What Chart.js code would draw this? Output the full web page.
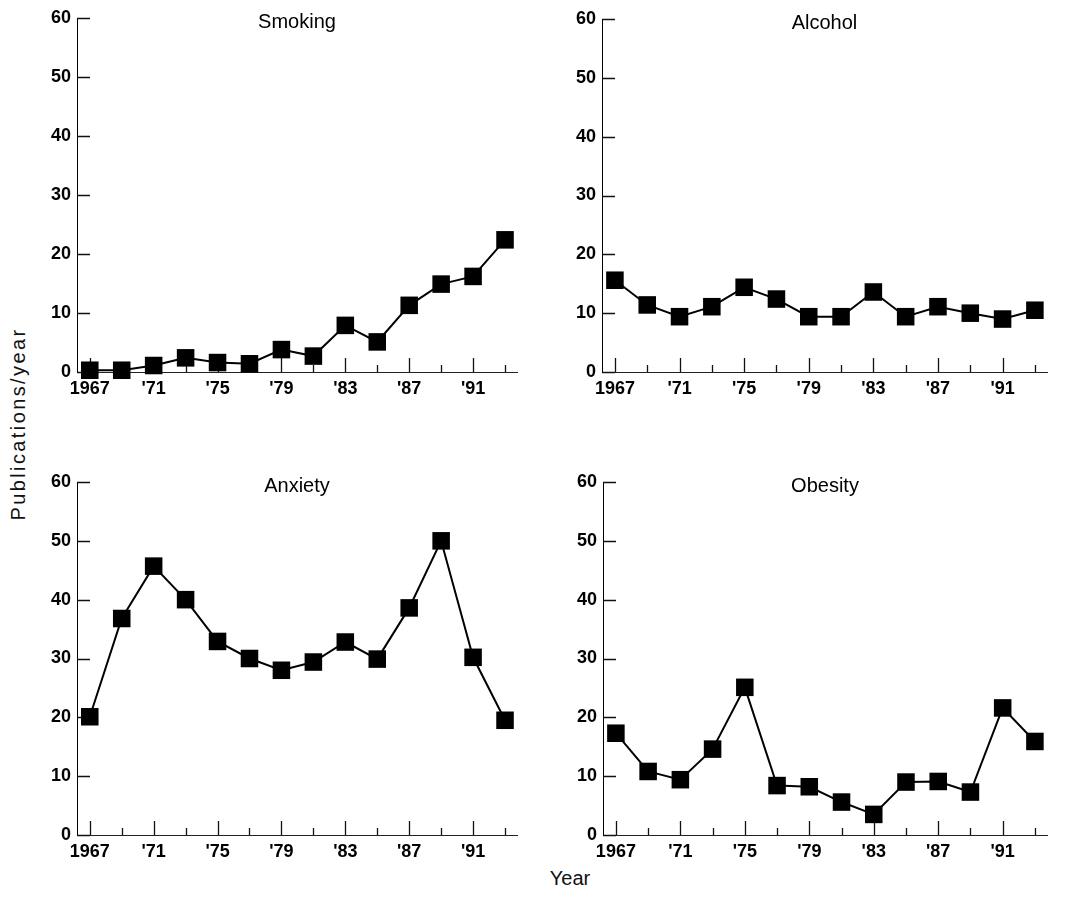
<!DOCTYPE html>
<html><head><meta charset="utf-8">
<script src="https://cdn.jsdelivr.net/npm/chart.js@4"></script>
<style>
html,body{margin:0;padding:0;background:#fff;width:1065px;height:901px;overflow:hidden;position:relative;font-family:"Liberation Sans";}
canvas{position:absolute;}
.yt{position:absolute;left:18px;top:424px;transform:translate(-50%,-50%) rotate(-90deg);font-size:20px;letter-spacing:2.4px;white-space:nowrap;color:#111;}
.xt{position:absolute;left:570px;top:878px;transform:translate(-50%,-50%);font-size:20px;color:#111;}
</style></head><body>
<div class="yt">Publications/year</div>
<div class="xt">Year</div>
<script>
const years = [1967,1969,1971,1973,1975,1977,1979,1981,1983,1985,1987,1989,1991,1993];
const smoking = [0.3,0.3,1.1,2.4,1.6,1.4,3.8,2.7,7.9,5.1,11.3,14.9,16.2,22.4];
const alcohol = [15.6,11.4,9.4,11.1,14.4,12.4,9.4,9.4,13.6,9.4,11.1,10.0,9.0,10.5];
const anxiety = [20.1,36.8,45.7,40.0,32.9,30.0,28.0,29.4,32.8,29.9,38.6,50.0,30.2,19.5];
const obesity = [17.3,10.8,9.4,14.6,25.1,8.4,8.2,5.6,3.5,9.0,9.1,7.3,21.6,15.9];
const xTickValues = [1967,1971,1975,1979,1983,1987,1991];
const xTickLabels = ['1967',"'71","'75","'79","'83","'87","'91"];
const minorTickValues = [1969,1973,1977,1981,1985,1989,1993];
const yTickValues = [0,10,20,30,40,50,60];
const panelTitles = ['Smoking','Alcohol','Anxiety','Obesity'];

const panels = [
  {title: panelTitles[0], values: smoking, area:{left:77, top:18, right:517, bottom:372}},
  {title: panelTitles[1], values: alcohol, area:{left:602, top:19, right:1047, bottom:372}},
  {title: panelTitles[2], values: anxiety, area:{left:77, top:482, right:517, bottom:835}},
  {title: panelTitles[3], values: obesity, area:{left:603, top:482, right:1047, bottom:835}}
];

const AXW = 77, PT = 50, PR = 15, XH = 32, PB = 15;
const FONT = {family: 'Liberation Sans', size: 18, weight: 'bold'};

const panelPlugin = {
  id: 'panelDeco',
  beforeDatasetsDraw(chart) {
    const {ctx, scales: {x, y}} = chart;
    const b = Math.round(y.getPixelForValue(0));
    const l = x.left;
    ctx.save();
    ctx.strokeStyle = '#111';
    ctx.lineWidth = 1.3;
    ctx.beginPath();
    xTickValues.forEach(v => {
      const px = Math.round(x.getPixelForValue(v)) + 0.5;
      ctx.moveTo(px, b); ctx.lineTo(px, b - 14);
    });
    minorTickValues.forEach(v => {
      const px = Math.round(x.getPixelForValue(v)) + 0.5;
      ctx.moveTo(px, b); ctx.lineTo(px, b - 7);
    });
    yTickValues.forEach(v => {
      const py = Math.round(y.getPixelForValue(v)) + 0.5;
      ctx.moveTo(l, py); ctx.lineTo(l + 13, py);
    });
    ctx.stroke();
    ctx.restore();
  },
  afterDraw(chart, args, opts) {
    const {ctx, chartArea} = chart;
    ctx.save();
    ctx.fillStyle = '#000';
    ctx.font = '20px "Liberation Sans"';
    ctx.textAlign = 'center';
    ctx.textBaseline = 'alphabetic';
    ctx.fillText(opts.title, (chartArea.left + chartArea.right) / 2, chartArea.top + 10);
    ctx.restore();
  }
};

panels.forEach(p => {
  const c = document.createElement('canvas');
  const w = p.area.right - p.area.left + AXW + PR;
  const h = p.area.bottom - p.area.top + PT + XH + PB;
  c.width = w; c.height = h;
  c.style.left = (p.area.left - AXW) + 'px';
  c.style.top = (p.area.top - PT) + 'px';
  c.style.width = w + 'px';
  c.style.height = h + 'px';
  document.body.appendChild(c);
  new Chart(c, {
    type: 'line',
    data: {
      datasets: [{
        data: years.map((yr, j) => ({x: yr, y: p.values[j]})),
        borderColor: '#000',
        borderWidth: 2,
        pointStyle: 'rect',
        pointRadius: 12.4,
        pointHoverRadius: 12.4,
        pointBackgroundColor: '#000',
        pointBorderColor: '#000',
        pointBorderWidth: 0,
        tension: 0,
        fill: false,
        clip: false
      }]
    },
    options: {
      responsive: false,
      animation: false,
      devicePixelRatio: 1,
      events: [],
      layout: {padding: {left: 0, top: PT, right: PR, bottom: PB}},
      plugins: {
        legend: {display: false},
        tooltip: {enabled: false},
        panelDeco: {title: p.title}
      },
      scales: {
        x: {
          type: 'linear',
          min: 1966.2,
          max: 1993.75,
          afterFit(s) { s.height = XH; },
          afterBuildTicks(s) { s.ticks = xTickValues.map(v => ({value: v})); },
          ticks: {autoSkip: false, maxRotation: 0, padding: 6, color: '#000', font: FONT,
            callback: (v, i) => xTickLabels[i]},
          grid: {display: false, drawTicks: false},
          border: {display: true, color: '#222', width: 1}
        },
        y: {
          min: 0,
          max: 60,
          afterFit(s) { s.width = AXW; },
          afterBuildTicks(s) { s.ticks = yTickValues.map(v => ({value: v})); },
          ticks: {padding: 6, color: '#000', font: FONT},
          grid: {display: false, drawTicks: false},
          border: {display: true, color: '#000', width: 1}
        }
      }
    },
    plugins: [panelPlugin]
  });
});
</script>
</body></html>
